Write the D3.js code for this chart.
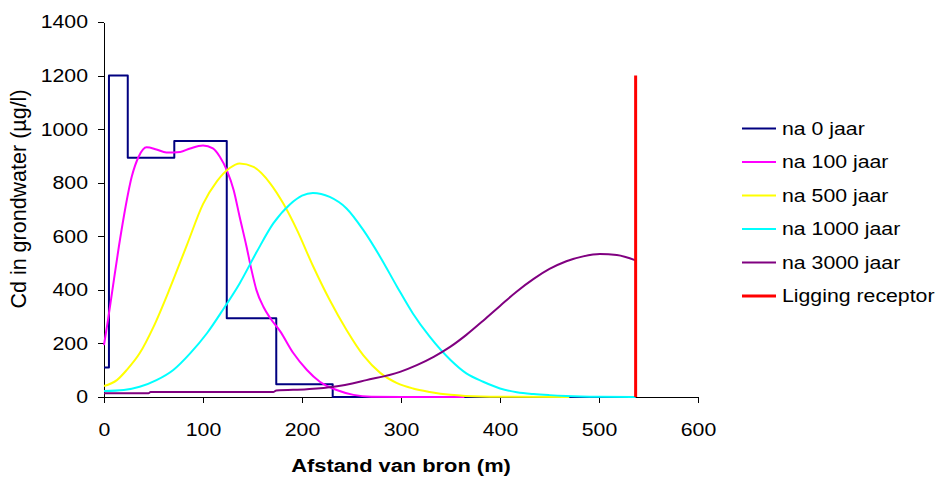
<!DOCTYPE html>
<html>
<head>
<meta charset="utf-8">
<script src="https://cdn.jsdelivr.net/npm/d3@7"></script>
<style>
  body { margin: 0; background: #fff; }
  svg { display: block; font-family: "Liberation Sans", Arial, sans-serif; }
</style>
</head>
<body>
<svg width="943" height="477"></svg>
<script>
(function() {
    // axis ticks
    var xTicks = [0, 100, 200, 300, 400, 500, 600];
    var yTicks = [0, 200, 400, 600, 800, 1000, 1200, 1400];

    var seriesNames  = ["na 0 jaar", "na 100 jaar", "na 500 jaar", "na 1000 jaar", "na 3000 jaar", "Ligging receptor"];
    var seriesColors = ["#000080", "#ff00ff", "#ffff00", "#00ffff", "#800080", "#ff0000"];

    // na 0 jaar (step values, each holds until the next distance)
    var dist0 = [0, 5, 24, 71, 124, 174, 231, 537];
    var conc0 = [110, 1200, 893, 956, 294, 48, 0, 0];

    // na 100 jaar
    var dist100 = [0, 4, 8, 15, 20, 28, 35, 43, 53, 63, 77, 87, 100, 110, 117, 124, 131, 137, 144, 149, 154, 161, 168, 178, 191, 205, 218, 235, 252, 270, 300, 364];
    var conc100 = [194, 287, 387, 561, 673, 822, 897, 932, 924, 913, 915, 928, 939, 928, 897, 847, 772, 673, 561, 474, 399, 337, 294, 245, 165, 101, 57, 26, 8, 1, 0, 0];

    // na 500 jaar
    var dist500 = [0, 13, 23, 36, 50, 67, 84, 100, 114, 127, 137, 151, 168, 181, 195, 211, 228, 245, 262, 279, 296, 312, 329, 350, 365, 400, 470];
    var conc500 = [41, 63, 101, 163, 262, 410, 570, 720, 805, 855, 872, 859, 797, 723, 623, 490, 362, 250, 155, 90, 52, 32, 19, 8, 4, 1, 0];

    // na 1000 jaar
    var dist1000 = [0, 20, 36, 53, 70, 87, 104, 120, 137, 154, 171, 188, 200, 211, 228, 245, 262, 279, 296, 312, 329, 350, 366, 383, 400, 417, 434, 450, 467, 500, 537];
    var conc1000 = [22, 26, 38, 63, 101, 163, 238, 325, 424, 540, 648, 720, 752, 762, 747, 704, 623, 523, 412, 312, 225, 138, 88, 57, 32, 18, 11, 7, 4, 1, 0];

    // na 3000 jaar
    var dist3000 = [0, 45, 47, 171, 174, 205, 232, 265, 299, 316, 333, 350, 366, 383, 400, 417, 434, 450, 467, 484, 501, 518, 537];
    var conc3000 = [14, 14, 19, 19, 24, 29, 38, 63, 94, 119, 150, 188, 232, 285, 340, 394, 441, 478, 507, 525, 534, 530, 510];

    // receptor position
    var receptorDist = [537, 537];
    var receptorConc = [0, 1200];

    var stretch = 1.15;   // text in the original is a bit wider than tall

    var svg = d3.select("svg");
    var margin = { top: 22, left: 104 };
    var width = 594, height = 375;

    var g = svg.append("g").attr("transform", "translate(" + margin.left + "," + margin.top + ")");

    var x = d3.scaleLinear().domain([0, 600]).range([0, width]);
    var y = d3.scaleLinear().domain([0, 1400]).range([height, 0]);

    function zip(xs, ys) {
        return xs.map(function(d, i) { return [d, ys[i]]; });
    }

    var series = [
        { points: zip(dist0, conc0),       curve: d3.curveStepAfter, w: 2 },
        { points: zip(dist100, conc100),   curve: d3.curveMonotoneX, w: 2 },
        { points: zip(dist500, conc500),   curve: d3.curveMonotoneX, w: 2 },
        { points: zip(dist1000, conc1000), curve: d3.curveMonotoneX, w: 2 },
        { points: zip(dist3000, conc3000), curve: d3.curveMonotoneX, w: 2 },
        { points: zip(receptorDist, receptorConc), curve: d3.curveLinear, w: 3 }
    ];

    //X Axis
    var xAxis = g.append("g")
        .attr("transform", "translate(0," + height + ")")
        .call(d3.axisBottom(x).tickValues(xTicks).tickSize(6).tickSizeOuter(0).tickFormat(d3.format("d")));
    xAxis.selectAll("text")
        .attr("y", 26)
        .attr("fill", "#000")
        .attr("transform", "scale(" + stretch + ",1)");

    //Y Axis
    var yAxis = g.append("g")
        .call(d3.axisLeft(y).tickValues(yTicks).tickSize(6).tickSizeOuter(0).tickFormat(d3.format("d")));
    yAxis.selectAll("text")
        .attr("x", -16 / stretch)
        .attr("fill", "#000")
        .attr("transform", "scale(" + stretch + ",1)");

    [xAxis, yAxis].forEach(function(a) {
        a.attr("font-size", 18.5).attr("font-family", null);
        a.selectAll("path, line").attr("stroke", "#000").attr("shape-rendering", "crispEdges");
    });

    // lines
    series.forEach(function(s, i) {
        var line = d3.line()
            .x(function(d) { return x(d[0]); })
            .y(function(d) { return y(d[1]); })
            .curve(s.curve);
        g.append("path")
            .datum(s.points)
            .attr("fill", "none")
            .attr("stroke", seriesColors[i])
            .attr("stroke-width", s.w)
            .attr("stroke-linejoin", "round")
            .attr("d", line);
    });

    // axis titles
    svg.append("text")
        .attr("transform", "translate(401,472) scale(" + stretch + ",1)")
        .attr("text-anchor", "middle")
        .attr("font-size", 19)
        .attr("font-weight", "bold")
        .text("Afstand van bron (m)");

    svg.append("text")
        .attr("transform", "translate(26,199) rotate(-90)")
        .attr("text-anchor", "middle")
        .attr("font-size", 21.5)
        .text("Cd in grondwater (µg/l)");

    // legend
    var legend = svg.append("g").attr("transform", "translate(742,128.5)");
    var rows = legend.selectAll("g")
        .data(seriesNames)
        .enter().append("g")
        .attr("transform", function(d, i) { return "translate(0," + (i * 33.5) + ")"; });
    rows.append("line")
        .attr("x1", 0).attr("x2", 34)
        .attr("stroke", function(d, i) { return seriesColors[i]; })
        .attr("stroke-width", function(d, i) { return series[i].w; });
    rows.append("text")
        .attr("transform", "translate(40,0) scale(" + stretch + ",1)")
        .attr("dy", "0.35em")
        .attr("font-size", 18.5)
        .text(function(d) { return d; });
})();
</script>
</body>
</html>
